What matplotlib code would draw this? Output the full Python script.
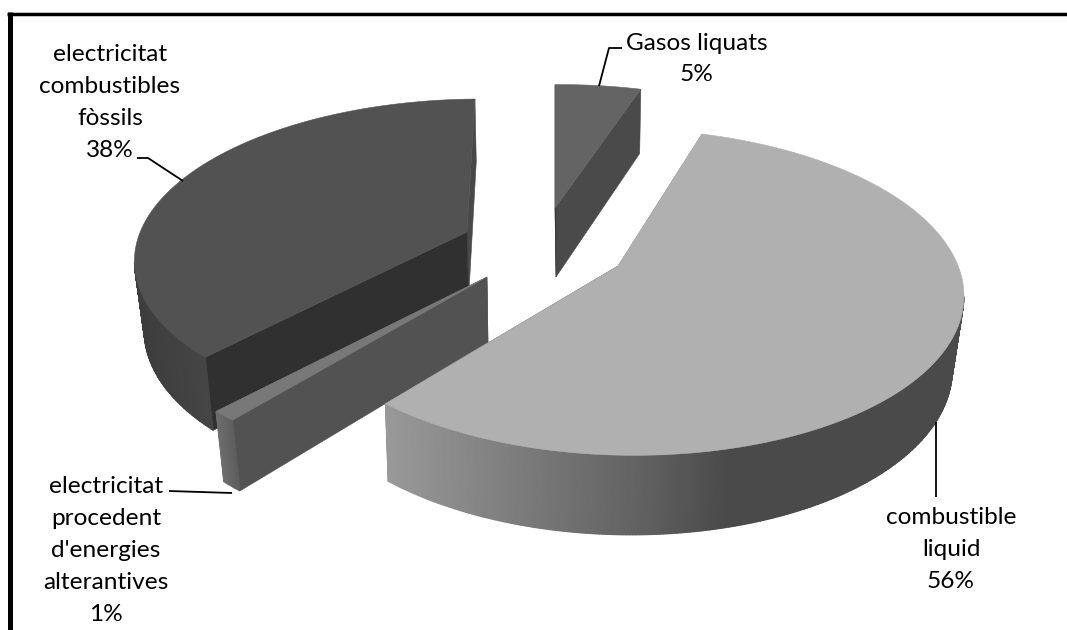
import numpy as np
import matplotlib
matplotlib.use("Agg")
import matplotlib.pyplot as plt
from matplotlib.patches import Polygon

# Energy shares, drawn clockwise from the start angle
categories = ["combustible\nliquid",
              "electricitat\nprocedent\nd'energies\nalterantives",
              "electricitat\ncombustibles\nfòssils",
              "Gasos liquats"]
shares = [56, 1, 38, 5]

START_DEG = 18.0
TILT_A, TILT_B, TILT_K, TILT_M = 335.0, 159.0, 0.16, 0.02
BASE_SX, BASE_SY = 0.975, 1.04

# Per-slice layout: exploded apex, depth, shape tweaks and grey shading
slices = [
    dict(apex=(618, 266), h=72, dx=-3, sx=0.995, sy=1.0, shear=0.045, top="#b0b0b0",
         side_end="#4a4a4a", side_start="#808080",
         rim=[(0.0, 0.60), (0.45, 0.38), (0.6, 0.29), (1.0, 0.29)]),
    dict(apex=(487, 277), h=65, dx=1, sx=1.06, sy=1.04, shear=0.0, top="#787878",
         side_end="#525252", side_start="#525252",
         rim=[(0.0, 0.43), (1.0, 0.37)]),
    dict(apex=(467, 232), h=68, dx=1.5, sx=0.995, sy=0.97, shear=-0.06, top="#525252",
         side_end="#484848", side_start="#303030",
         rim=[(0.0, 0.24), (0.25, 0.28), (1.0, 0.28)]),
    dict(apex=(555, 208), h=69, dx=1, sx=0.95, sy=0.9, shear=0.0, top="#646464",
         side_end="#4a4a4a", side_start="#3a3a3a",
         rim=[(0.0, 0.29), (1.0, 0.29)]),
]

# Label anchors and leader polylines, listed in the same order as the shares
label_xy = [(951, 549.5), (106, 550.5), (110, 102.5), (697, 59)]
leaders = [
    [(936, 422), (936, 497)],
    [(169, 491), (232, 493)],
    [(137, 158), (148, 158), (183, 181)],
    [(622, 48), (609, 48), (599, 86)],
]


def disc(deg):
    """Project clockwise angles on the unit disc to pixel offsets from the apex."""
    t = np.radians(deg)
    x, y = np.sin(t), -np.cos(t)
    w = 1 - TILT_K * y - TILT_M * x
    return TILT_A * x / w, TILT_B * y / w


fig = plt.figure(figsize=(10.67, 6.30), dpi=100)
ax = fig.add_axes([0, 0, 1, 1])
ax.set_xlim(0, 1067)
ax.set_ylim(630, 0)
ax.axis("off")

# Chart frame: only the top and left rules are in view
ax.plot([9.8, 9.8], [630, 12], color="black", lw=3.6, solid_capstyle="butt", zorder=1)
ax.plot([7.3, 1067], [13.5, 13.5], color="black", lw=2.5, solid_capstyle="butt", zorder=1)

# Back-to-front painting order for the exploded slices
edges = START_DEG + np.cumsum([0] + shares) * 3.6
order = [2, 3, 1, 0]
for z, i in enumerate(order):
    s = slices[i]
    a0, a1 = edges[i], edges[i + 1]
    ang = np.linspace(a0, a1, max(int((a1 - a0) * 2), 6) + 1)
    ax0, ay0 = s["apex"]
    lx, ly = disc(ang)
    lx, ly = lx * s["sx"], ly * s["sy"]
    lx = lx + s["shear"] * ly
    tx, ty = ax0 + lx, ay0 + ly
    bx0, by0 = ax0 + s["dx"], ay0 + s["h"]
    bx, by = bx0 + lx * BASE_SX, by0 + ly * BASE_SY
    base_z = 2 + z * 4
    # Radial faces
    ax.add_patch(Polygon([(ax0, ay0), (tx[-1], ty[-1]), (bx[-1], by[-1]), (bx0, by0)],
                         fc=s["side_end"], ec=s["side_end"], lw=0.4, zorder=base_z))
    ax.add_patch(Polygon([(ax0, ay0), (tx[0], ty[0]), (bx[0], by[0]), (bx0, by0)],
                         fc=s["side_start"], ec=s["side_start"], lw=0.4, zorder=base_z))
    # Outer rim as one smooth mesh, shaded left to right; only the front-facing arc shows
    f = (tx - tx.min()) / max(tx.max() - tx.min(), 1)
    grey = np.interp(f, [p for p, _ in s["rim"]], [v for _, v in s["rim"]])
    front = np.gradient(tx) < 0
    if front.sum() > 1:
        ax.pcolormesh(np.vstack([tx[front], bx[front]]), np.vstack([ty[front], by[front]]),
                      np.vstack([grey[front], grey[front]]),
                      shading="gouraud", cmap="gray", vmin=0, vmax=1, zorder=base_z + 1)
    # Top surface
    ax.add_patch(Polygon(np.column_stack([np.r_[ax0, tx], np.r_[ay0, ty]]),
                         fc=s["top"], ec=s["top"], lw=0.4, zorder=base_z + 2))

ax.set_xlim(0, 1067)
ax.set_ylim(630, 0)

plt.rcParams["font.family"] = "Lato"
for name, share, (x, y), line in zip(categories, shares, label_xy, leaders):
    ax.text(x, y, f"{name}\n{share}%", ha="center", va="center", fontsize=17.6,
            linespacing=1.64, color="black", zorder=40)
    xs, ys = zip(*line)
    ax.plot(xs, ys, color="black", lw=1.3, zorder=39, solid_capstyle="butt")

fig.savefig("out.png", dpi=100)
